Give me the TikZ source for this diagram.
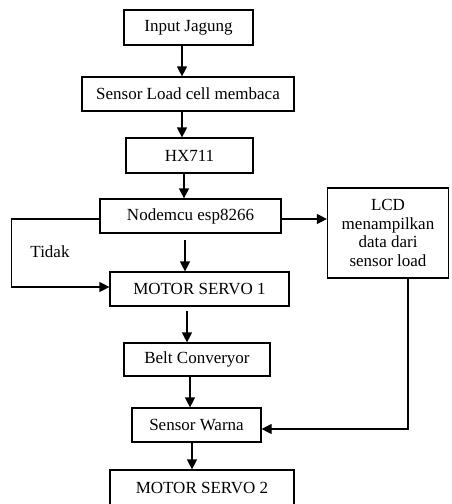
\documentclass[tikz,border=0pt]{standalone}
\usepackage{fontspec}
\setmainfont{Liberation Serif}
\usetikzlibrary{arrows.meta}

\begin{document}
\begin{tikzpicture}[x=1pt,y=-1pt,
		box/.style={draw, line width=1.2pt, inner sep=0pt, align=center, font=\fontsize{17}{18.5}\selectfont},
		arr/.style={line width=1.2pt, -{Triangle[length=10pt,width=10pt]}}]
		\useasboundingbox (0,0) rectangle (451,504);

		% Main column
		\node[box, minimum width=129pt, minimum height=35pt] (in) at (188.5,27.5) {Input Jagung};
		\node[box, minimum width=212pt, minimum height=34pt] (sen) at (188,94) {Sensor Load cell membaca};
		\node[box, minimum width=127pt, minimum height=35pt] (hx) at (189.5,155.5) {HX711};
		\node[box, minimum width=181pt, minimum height=34pt] (nod) at (190.5,216) {Nodemcu esp8266};
		\node[box, minimum width=179pt, minimum height=34pt] (ms1) at (199.5,289) {MOTOR SERVO 1};
		\node[box, minimum width=146pt, minimum height=33pt] (belt) at (197,359.5) {Belt Converyor};
		\node[box, minimum width=129pt, minimum height=34pt] (sw) at (196.5,425) {Sensor Warna};
		\node[box, minimum width=184pt, minimum height=35pt] (ms2) at (202,487.5) {MOTOR SERVO 2};

		% LCD box
		\node[box, minimum width=121pt, minimum height=90pt] (lcd) at (388,233) {LCD\\menampilkan\\data dari\\sensor load};

		% Arrows down
		\draw[arr] ([xshift=-6.5pt]in.south) -- ([xshift=-6.5pt]in.south |- sen.north);
		\draw[arr] ([xshift=-6pt]sen.south) -- ([xshift=-6pt]sen.south |- hx.north);
		\draw[arr] ([xshift=-5.5pt]hx.south) -- ([xshift=-5.5pt]hx.south |- nod.north);
		\draw[arr] ([xshift=-5.5pt,yshift=-6pt]nod.south) -- ([xshift=-5.5pt]nod.south |- ms1.north);
		\draw[arr] ([xshift=-12.5pt,yshift=-4pt]ms1.south) -- ([xshift=-12.5pt]ms1.south |- belt.north);
		\draw[arr] ([xshift=-7pt]belt.south) -- ([xshift=-7pt]belt.south |- sw.north);
		\draw[arr] ([xshift=-4.5pt]sw.south) -- ([xshift=-4.5pt]sw.south |- ms2.north);

		% Side paths
		\draw[arr] ([yshift=-3pt]nod.east) -- ([yshift=-3pt]nod.east -| lcd.west);
		\draw[arr] ([yshift=-3pt]nod.west) -- ++(-88,0) |- ([yshift=2pt]ms1.west);
		\node[font=\fontsize{17}{18.5}\selectfont] (tidak) at (50,252) {Tidak};
		\draw[arr] ([xshift=20pt]lcd.south) |- ([yshift=-4pt]sw.east);

	\end{tikzpicture}
\end{document}
